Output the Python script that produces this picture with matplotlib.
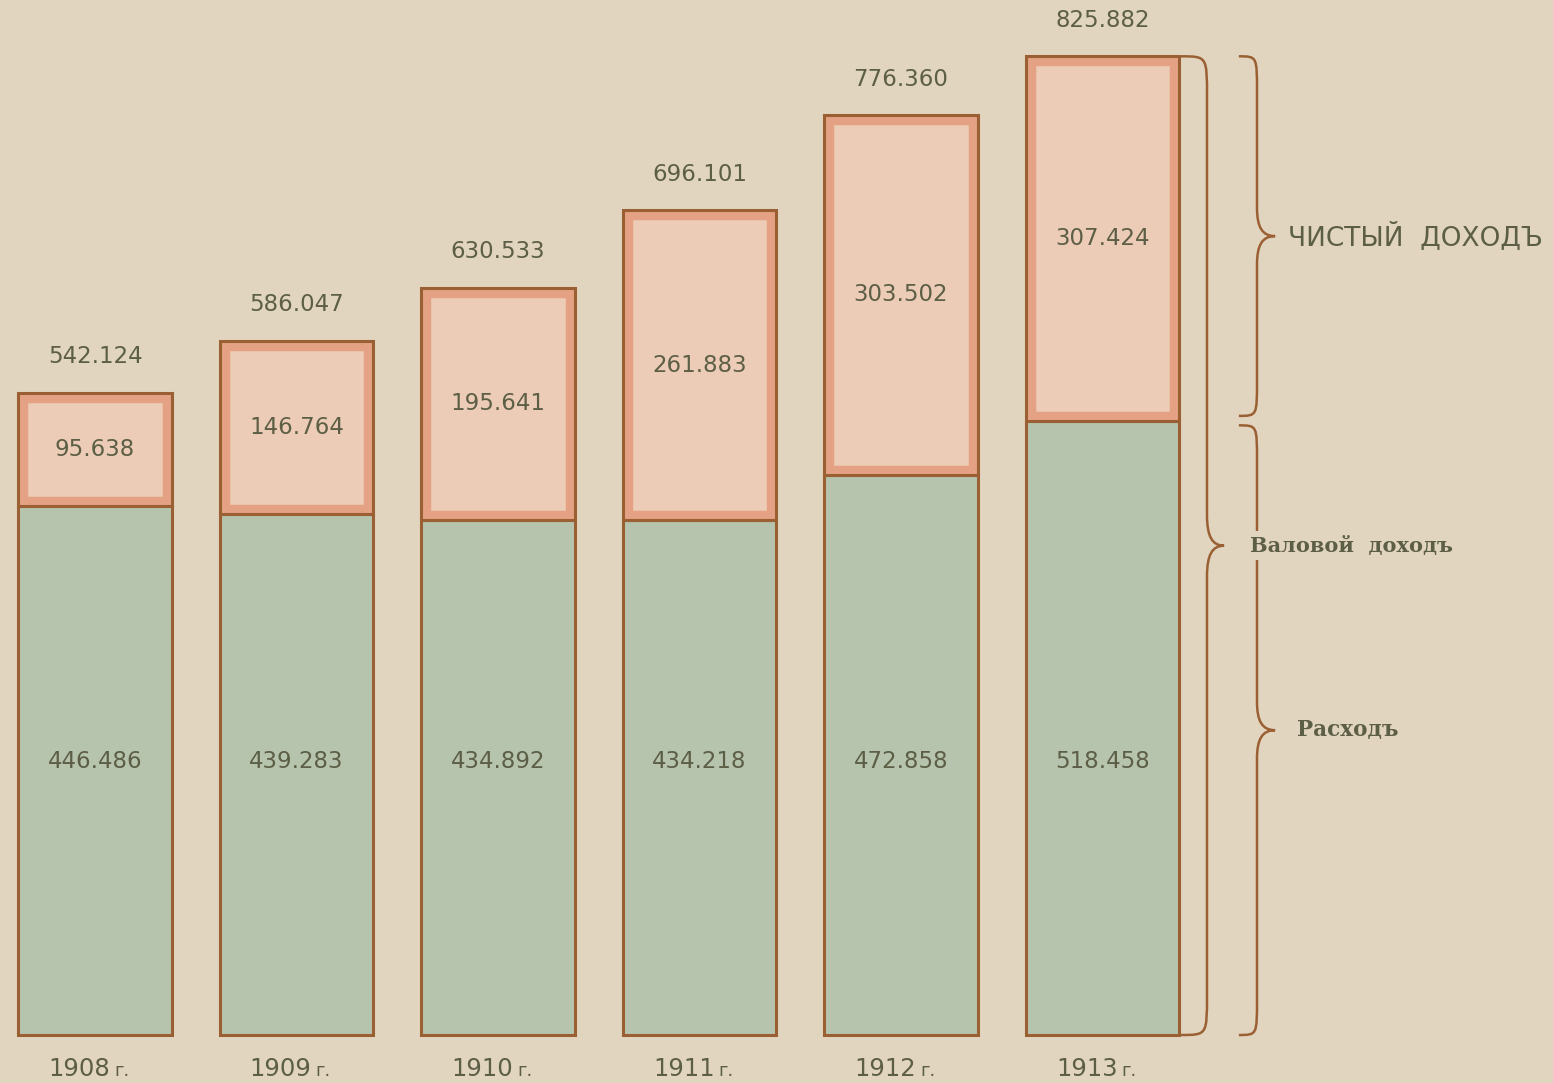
import matplotlib
matplotlib.use("Agg")
import matplotlib.pyplot as plt
from matplotlib.path import Path
from matplotlib.patches import PathPatch

# ---- data ----
years = ["1908", "1909", "1910", "1911", "1912", "1913"]
expenses = [446.486, 439.283, 434.892, 434.218, 472.858, 518.458]      # Расходъ
net_income = [95.638, 146.764, 195.641, 261.883, 303.502, 307.424]     # Чистый доходъ
gross_income = [542.124, 586.047, 630.533, 696.101, 776.360, 825.882]  # Валовой доходъ

# ---- style ----
BG = "#e2d5bf"
GREEN = "#b7c4ad"
PINK = "#ecccb6"
SALMON = "#e4a184"
BROWN = "#9a6034"
TEXT = "#5c5e46"

W, H, DPI = 1553, 1083, 100
fig = plt.figure(figsize=(W / DPI, H / DPI), dpi=DPI, facecolor=BG)
bottom_px = 1035
ax = fig.add_axes([0, (H - bottom_px) / H, 1, bottom_px / H])
ax.set_facecolor(BG)
ax.axis("off")
px_per_unit = 1.185
step_px = 201.5
x0_px = 95
ax.set_ylim(0, bottom_px / px_per_unit)
ax.set_xlim(-x0_px / step_px, (W - x0_px) / step_px)

x = list(range(len(years)))
width = 0.76

# expenses (green)
gbars = ax.bar(x, expenses, width=width, color=GREEN, edgecolor=BROWN, linewidth=2.2, zorder=2)
for p in gbars:
    p.set_clip_on(False)
# net income (pink with inner salmon band)
pbars = ax.bar(x, net_income, width=width, bottom=expenses, color=PINK,
               edgecolor=SALMON, linewidth=14, zorder=3)
for p in pbars:
    p.set_clip_path(p)
obars = ax.bar(x, net_income, width=width, bottom=expenses, fill=False,
               edgecolor=BROWN, linewidth=2.2, zorder=4)
for p in obars:
    p.set_clip_on(False)

num_font = dict(family="DejaVu Sans", fontsize=16.5, color=TEXT)
green_label_y = (bottom_px - 762) / px_per_unit
for i in x:
    # gross total above
    ax.annotate(f"{gross_income[i]:.3f}", (i, gross_income[i]), xytext=(0, 36),
                textcoords="offset pixels", ha="center", va="center", zorder=5,
                annotation_clip=False, **num_font)
    # net in middle of pink
    ax.text(i, expenses[i] + net_income[i] / 2, f"{net_income[i]:.3f}",
            ha="center", va="center", zorder=5, **num_font)
    # expenses
    ax.text(i, green_label_y, f"{expenses[i]:.3f}", ha="center", va="center",
            zorder=5, **num_font)
    # year labels
    ax.annotate(years[i], (i, 0), xytext=(15, -34), textcoords="offset pixels",
                ha="right", va="center", family="DejaVu Sans", fontsize=17.5,
                color=TEXT, annotation_clip=False)
    ax.annotate("г.", (i, 0), xytext=(19, -36), textcoords="offset pixels",
                ha="left", va="center", family="DejaVu Sans", fontsize=13,
                color=TEXT, annotation_clip=False)


def brace(xv, y0, y1, w, tipw, r, rt):
    ym = (y0 + y1) / 2
    verts = [
        (xv - w, y1),
        (xv, y1), (xv, y1), (xv, y1 - r),
        (xv, ym + rt),
        (xv, ym + rt * 0.3), (xv + tipw * 0.3, ym), (xv + tipw, ym),
        (xv + tipw * 0.3, ym), (xv, ym - rt * 0.3), (xv, ym - rt),
        (xv, y0 + r),
        (xv, y0), (xv, y0), (xv - w, y0),
    ]
    codes = [Path.MOVETO,
             Path.CURVE4, Path.CURVE4, Path.CURVE4,
             Path.LINETO,
             Path.CURVE4, Path.CURVE4, Path.CURVE4,
             Path.CURVE4, Path.CURVE4, Path.CURVE4,
             Path.LINETO,
             Path.CURVE4, Path.CURVE4, Path.CURVE4]
    ax.add_patch(PathPatch(Path(verts, codes), fill=False, edgecolor=BROWN,
                           linewidth=1.8, zorder=3, clip_on=False))
    return ym


last = len(years) - 1
top = gross_income[last]
mid_exp = expenses[last]

xb1 = (1207 - x0_px) / step_px
xb2 = (1257 - x0_px) / step_px
gap = 4

ym1 = brace(xb1, 0, top, 0.13, 0.085, 34, 26)
ym2 = brace(xb2, mid_exp + gap, top, 0.09, 0.09, 30, 24)
ym3 = brace(xb2, 0, mid_exp - gap, 0.09, 0.09, 30, 24)

ax.text((1250 - x0_px) / step_px, ym1, "Валовой  доходъ", ha="left", va="center",
        family="DejaVu Serif", fontweight="bold", fontsize=15, color=TEXT, zorder=6,
        bbox=dict(facecolor=BG, edgecolor="none", pad=3))
ax.text((1288 - x0_px) / step_px, ym2, "ЧИСТЫЙ  ДОХОДЪ", ha="left", va="center",
        family="DejaVu Sans", fontsize=19, color=TEXT, zorder=6)
ax.text((1297 - x0_px) / step_px, ym3, "Расходъ", ha="left", va="center",
        family="DejaVu Serif", fontweight="bold", fontsize=15.5, color=TEXT, zorder=6)

fig.savefig("out.png", dpi=DPI, facecolor=BG)
